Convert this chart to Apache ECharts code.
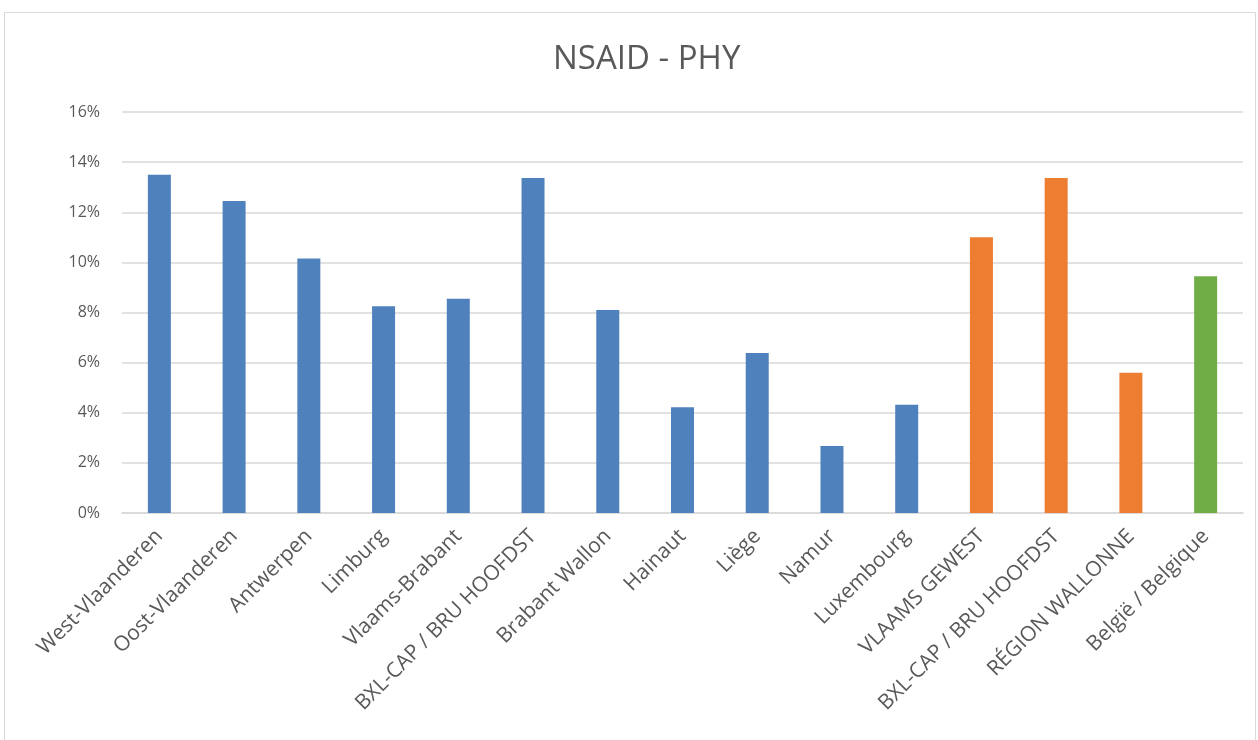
<!DOCTYPE html>
<html>
<head>
<meta charset="utf-8">
<script src="https://cdn.jsdelivr.net/npm/echarts@6/dist/echarts.min.js"></script>
<style>
  html, body { margin: 0; padding: 0; background: #fff; }
  #frame { position: absolute; left: 4px; top: 12px; width: 1252px; height: 740px; border: 1px solid #d9d9d9; box-sizing: border-box; }
  #chart { position: absolute; left: 0; top: 0; width: 1258px; height: 740px; }
</style>
</head>
<body>
<div id="frame"></div>
<div id="chart"></div>
<script>
// categories along x
const categories = [
  'West-Vlaanderen', 'Oost-Vlaanderen', 'Antwerpen', 'Limburg', 'Vlaams-Brabant',
  'BXL-CAP / BRU HOOFDST', 'Brabant Wallon', 'Hainaut', 'Liège', 'Namur',
  'Luxembourg', 'VLAAMS GEWEST', 'BXL-CAP / BRU HOOFDST', 'RÉGION WALLONNE', 'België / Belgique'
]
// share in %
const values = [13.5, 12.45, 10.15, 8.25, 8.55, 13.37, 8.1, 4.22, 6.38, 2.67, 4.32, 11.0, 13.37, 5.6, 9.45]
// level of each category: province, region, country
const levels = ['prov', 'prov', 'prov', 'prov', 'prov', 'prov', 'prov', 'prov', 'prov', 'prov', 'prov',
  'region', 'region', 'region', 'country']
const yTicks = [0, 2, 4, 6, 8, 10, 12, 14, 16]

const levelColor = { prov: '#4f81bd', region: '#ed7d31', country: '#70ad47' }
const font = '"Open Sans", "Noto Sans", sans-serif'

const chart = echarts.init(document.getElementById('chart'))
chart.setOption({
  animation: false,
  title: {
    text: 'NSAID - PHY',
    left: 548,
    top: 38,
    textStyle: { fontFamily: font, fontSize: 33, fontWeight: 'normal', color: '#595959' }
  },
  grid: { left: 122, right: 15, top: 112, bottom: 227 },
  xAxis: {
    type: 'category',
    data: categories,
    axisLine: { lineStyle: { color: '#d9d9d9', width: 1.5 } },
    axisTick: { show: false },
    axisLabel: {
      interval: 0,
      rotate: 45,
      margin: 20,
      fontFamily: font,
      fontSize: 21,
      color: '#595959'
    }
  },
  yAxis: {
    type: 'value',
    min: yTicks[0],
    max: yTicks[yTicks.length - 1],
    interval: 2,
    axisLine: { show: false },
    axisTick: { show: false },
    splitLine: { lineStyle: { color: '#d9d9d9', width: 1.5 } },
    axisLabel: {
      margin: 22,
      fontFamily: font,
      fontSize: 16,
      color: '#595959',
      formatter: v => v + '%'
    }
  },
  series: [{
    type: 'bar',
    barWidth: 23,
    data: values.map((v, i) => ({ value: v, itemStyle: { color: levelColor[levels[i]] } }))
  }]
})
</script>
</body>
</html>
